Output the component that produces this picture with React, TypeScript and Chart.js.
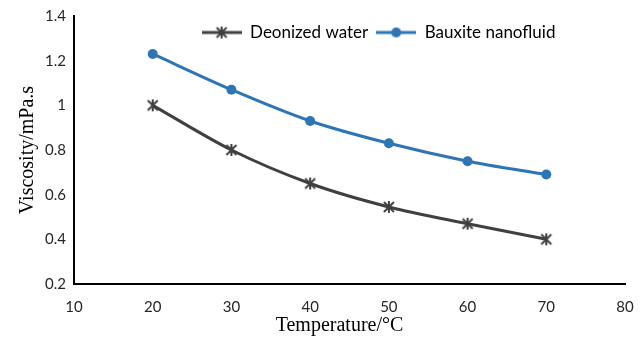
import React, { useEffect, useRef } from "react";
import { Chart, registerables } from "chart.js";

Chart.register(...registerables);

const temperatures = [20, 30, 40, 50, 60, 70];
const waterViscosity = [1.0, 0.8, 0.65, 0.545, 0.47, 0.4];
const nanofluidViscosity = [1.23, 1.07, 0.93, 0.83, 0.75, 0.69];
const seriesNames = ["Deonized water", "Bauxite nanofluid"];
const xTitle = "Temperature/°C";
const yTitle = "Viscosity/mPa.s";

const BLACK = "#404040";
const BLUE = "#2E75B6";

function starMarker(color: string): HTMLCanvasElement {
  const c = document.createElement("canvas");
  c.width = 14;
  c.height = 14;
  const ctx = c.getContext("2d")!;
  ctx.strokeStyle = color;
  ctx.lineWidth = 2;
  const r = 5;
  ctx.beginPath();
  ctx.moveTo(7 - r, 7 - r);
  ctx.lineTo(7 + r, 7 + r);
  ctx.moveTo(7 + r, 7 - r);
  ctx.lineTo(7 - r, 7 + r);
  ctx.moveTo(7, 7 - r - 1);
  ctx.lineTo(7, 7 + r + 1);
  ctx.stroke();
  return c;
}

function legendIcon(color: string, style: "star" | "circle"): HTMLCanvasElement {
  const c = document.createElement("canvas");
  c.width = 40;
  c.height = 14;
  const ctx = c.getContext("2d")!;
  ctx.strokeStyle = color;
  ctx.fillStyle = color;
  ctx.lineWidth = 3;
  ctx.beginPath();
  ctx.moveTo(0, 7);
  ctx.lineTo(40, 7);
  ctx.stroke();
  if (style === "circle") {
    ctx.beginPath();
    ctx.arc(20, 7, 5, 0, Math.PI * 2);
    ctx.fill();
  } else {
    ctx.drawImage(starMarker(color), 13, 0);
  }
  return c;
}

const boxShift = {
  id: "boxShift",
  beforeLayout(chart: any) {
    const lg = chart.legend;
    if (lg && !lg._patched) {
      const orig = lg.fit.bind(lg);
      lg.fit = function () {
        orig();
        this._fullHeight = this.height;
        this.height = 0;
      };
      lg._patched = true;
    }
  },
  afterLayout(chart: any) {
    const lg = chart.legend;
    if (lg) {
      const h = lg._fullHeight || 40;
      lg.left += 62;
      lg.right += 62;
      lg.height = h;
      lg.bottom = lg.top + h;
    }
    const tb = chart.titleBlock;
    if (tb) {
      tb.left -= 10;
      tb.right -= 10;
    }
  },
};

export default function App() {
  const ref = useRef<HTMLCanvasElement>(null);
  useEffect(() => {
    const icons = [legendIcon(BLACK, "star"), legendIcon(BLUE, "circle")];
    const star = starMarker(BLACK);
    const chart = new Chart(ref.current!, {
      type: "line",
      data: {
        datasets: [
          {
            label: seriesNames[0],
            data: temperatures.map((t, i) => ({ x: t, y: waterViscosity[i] })),
            borderColor: BLACK,
            backgroundColor: BLACK,
            borderWidth: 3,
            pointStyle: star as any,
            pointRadius: 5,
            tension: 0.3,
          },
          {
            label: seriesNames[1],
            data: temperatures.map((t, i) => ({ x: t, y: nanofluidViscosity[i] })),
            borderColor: BLUE,
            backgroundColor: BLUE,
            borderWidth: 3,
            pointStyle: "circle",
            pointRadius: 5,
            pointBorderWidth: 0,
            tension: 0.3,
          },
        ],
      },
      options: {
        animation: false,
        responsive: true,
        maintainAspectRatio: false,
        layout: { padding: { top: 7, right: 11, left: 0, bottom: 0 } },
        scales: {
          x: {
            type: "linear",
            min: 10,
            max: 80,
            grid: { display: false, drawTicks: false },
            border: { display: true, color: "#000", width: 2 },
            ticks: {
              stepSize: 10,
              padding: 14,
              color: "#262626",
              font: { family: "Lato", size: 15 },
            },
            afterFit: (s: any) => {
              s.height = 30;
              s.paddingLeft = 0;
              s.paddingRight = 0;
            },
          },
          y: {
            min: 0.2,
            max: 1.4,
            grid: { display: false, drawTicks: false },
            border: { display: true, color: "#000", width: 2 },
            ticks: {
              stepSize: 0.2,
              padding: 8,
              color: "#262626",
              font: { family: "Lato", size: 15 },
              callback: (v: any) => String(Math.round(Number(v) * 10) / 10),
            },
            title: {
              display: true,
              text: yTitle,
              color: "#000",
              font: { family: "Liberation Serif", size: 20 },
              padding: { top: 8, bottom: 0 },
            },
            afterFit: (s: any) => {
              s.width = 66;
              s.paddingTop = 0;
              s.paddingBottom = 0;
            },
          },
        },
        plugins: {
          legend: {
            position: "top",
            align: "center",
            labels: {
              usePointStyle: true,
              pointStyleWidth: 40,
              boxHeight: 14,
              padding: 8,
              color: "#000",
              font: { family: "Lato", size: 17 },
              generateLabels: (ch: any) =>
                ch.data.datasets.map((d: any, i: number) => ({
                  text: d.label,
                  pointStyle: icons[i],
                  fillStyle: d.borderColor,
                  strokeStyle: d.borderColor,
                  lineWidth: 0,
                  hidden: false,
                  datasetIndex: i,
                  fontColor: "#000",
                })),
            },
          },
          title: {
            display: true,
            position: "bottom",
            fullSize: false,
            text: xTitle,
            color: "#000",
            font: { family: "Liberation Serif", size: 20, weight: "normal" },
            padding: { top: 0, bottom: 1 },
          },
          tooltip: { enabled: false },
        },
      },
      plugins: [boxShift],
    });
    return () => chart.destroy();
  }, []);
  return (
    <div style={{ width: 628, height: 331, position: "relative" }}>
      <canvas ref={ref} />
    </div>
  );
}
